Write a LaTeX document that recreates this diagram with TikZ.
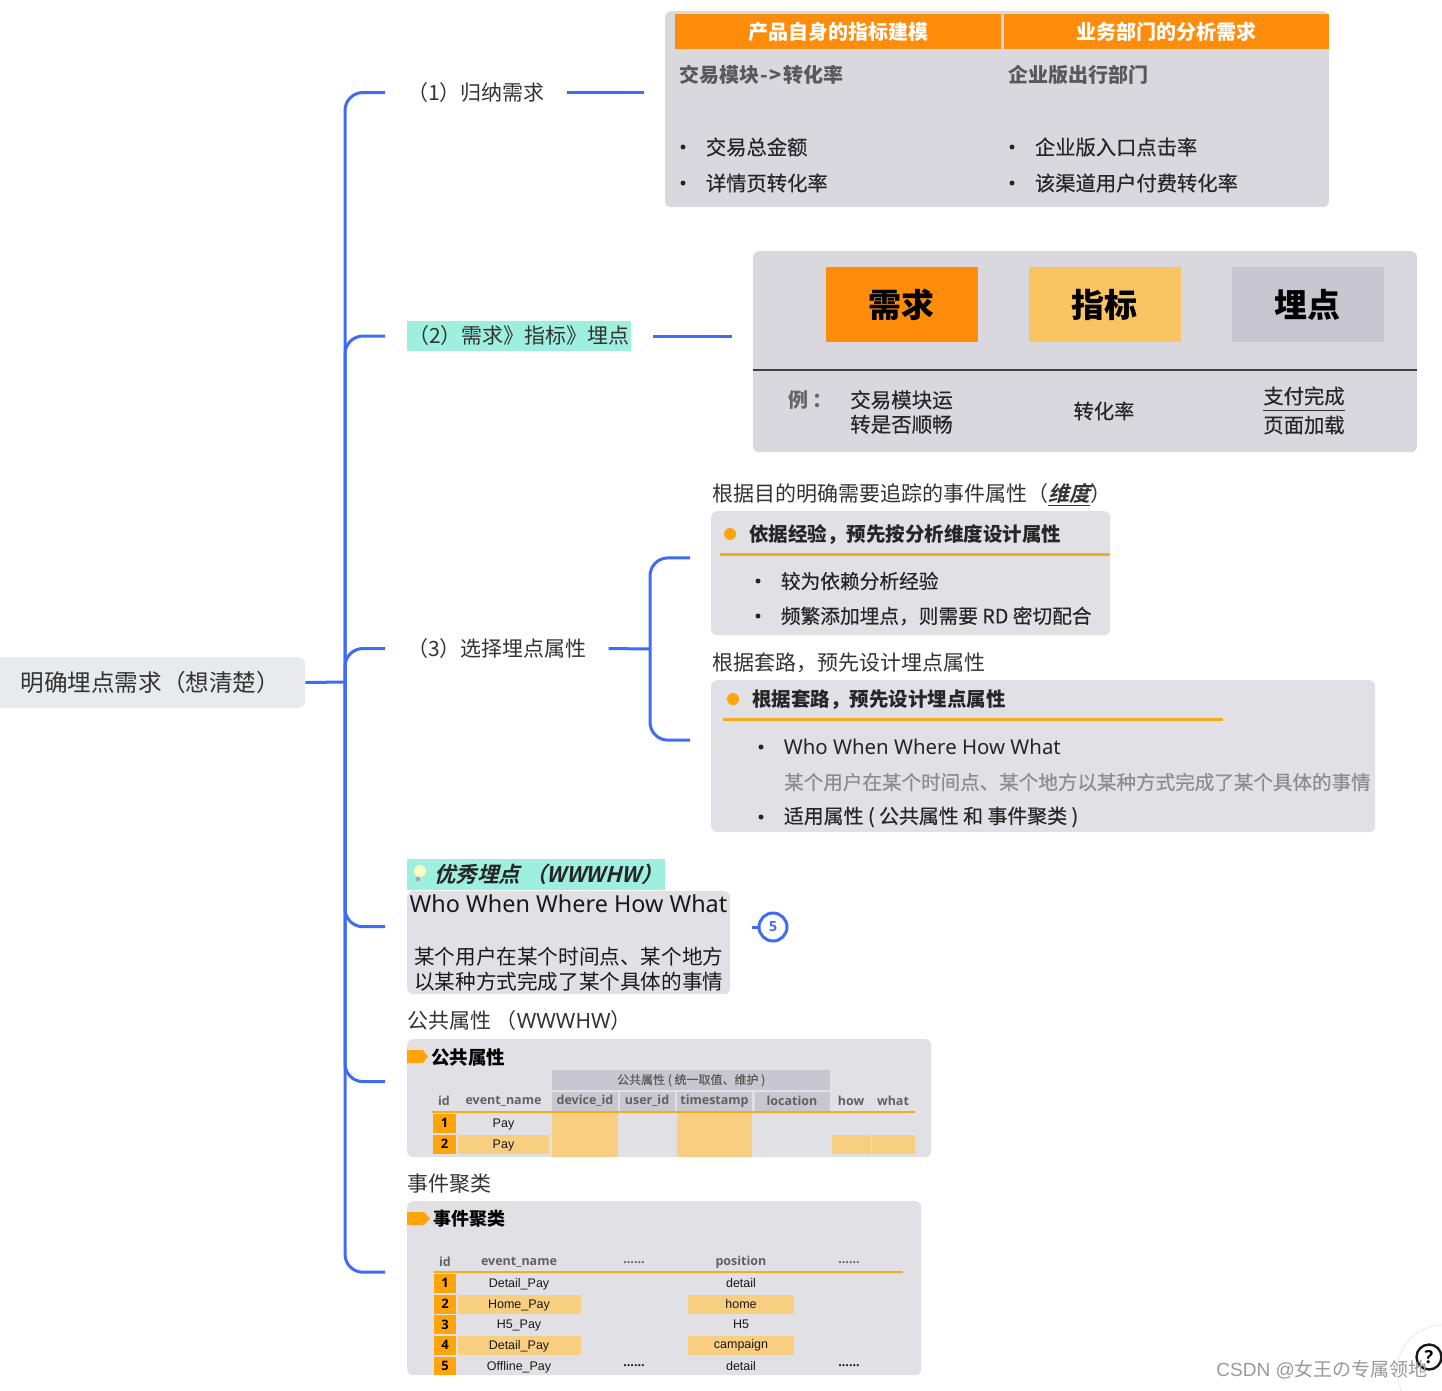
\documentclass[tikz,border=0pt]{standalone}
\usepackage{fontspec}
\setmainfont{Noto Sans CJK SC}
\setsansfont{Open Sans}
\newfontfamily\slantfont[FakeSlant=0.25]{Noto Sans CJK SC Bold}
\newfontfamily\medfont[FakeBold=0.35]{Noto Sans CJK SC}
\newfontfamily\whofont{Noto Sans}
\newfontfamily\armfont{Liberation Sans}
\usetikzlibrary{positioning, fit}
\definecolor{linkblue}{HTML}{3F6CF4}
\definecolor{rootgray}{HTML}{E9EAEC}
\definecolor{teal}{HTML}{9FEFDF}
\definecolor{panelgray}{HTML}{D9D8DF}
\definecolor{panellight}{HTML}{E0E0E5}
\definecolor{cellgray}{HTML}{C8C7CF}
\definecolor{deeporange}{HTML}{FF8C0A}
\definecolor{tagorange}{HTML}{FFA50A}
\definecolor{softorange}{HTML}{F8CE80}
\definecolor{boxorange}{HTML}{F9C562}
\definecolor{ruleorange}{HTML}{F5AC1E}
\newcommand{\fsz}[2]{\fontsize{#1}{#2}\selectfont}

\begin{document}
\begin{tikzpicture}[
		x=1pt,
		y=-1pt,
		node distance=20pt,
		root/.style={
			rectangle,
			rounded corners=7pt,
			fill=rootgray,
			anchor=west,
			align=left,
			inner xsep=18pt,
			minimum height=51pt,
			text=black!80,
			font=\fsz{23.6}{27}
		},
		branch/.style={
			anchor=west,
			inner xsep=0pt,
			inner ysep=0pt,
			outer xsep=22pt,
			text=black!80,
			font=\fsz{21}{25}
		},
		marked/.style={
			branch,
			fill=teal,
			minimum height=30pt,
			minimum width=224pt,
			align=left
		},
		panel/.style={
			rectangle,
			rounded corners=6pt,
			fill=panellight,
			anchor=north west,
			inner sep=0pt
		},
		headbox/.style={
			rectangle,
			fill=deeporange,
			text=white,
			anchor=north west,
			inner sep=0pt,
			minimum height=35pt,
			font=\fsz{20}{24}\bfseries
		},
		bigbox/.style={
			rectangle,
			anchor=north west,
			inner sep=0pt,
			minimum width=152pt,
			minimum height=75pt,
			text=black,
			font=\fsz{33}{36}\bfseries
		},
		caption/.style={
			anchor=west,
			inner sep=0pt,
			text=black!85,
			font=\medfont\fsz{20.3}{25}
		},
		plaintitle/.style={
			anchor=west,
			inner sep=0pt,
			text=black!80,
			font=\fsz{21}{25}
		},
		strong/.style={
			caption,
			font=\fsz{19.5}{24}\bfseries
		},
		dot/.style={
			circle,
			fill=black!85,
			inner sep=0pt,
			minimum size=5pt
		},
		bigdot/.style={
			circle,
			fill=tagorange,
			inner sep=0pt,
			minimum size=12pt
		},
		cell/.style={
			rectangle,
			anchor=north west,
			inner sep=0pt,
			minimum height=19pt,
			text=black!90,
			font=\armfont\fsz{12.5}{15}
		},
		headcell/.style={
			anchor=center,
			inner sep=0pt,
			text=black!62,
			font=\sffamily\fsz{12.5}{15}\bfseries
		},
		rowcell/.style={
			anchor=center,
			inner sep=0pt,
			text=black!90,
			font=\armfont\fsz{12.5}{15}
		},
		idcell/.style={
			rectangle,
			fill=tagorange,
			anchor=center,
			inner sep=0pt,
			minimum width=23pt,
			minimum height=19pt,
			text=black,
			font=\sffamily\fsz{13}{15}\bfseries
		},
		link/.style={
			draw=linkblue,
			line width=3pt
		},
		curved/.style={
			link,
			rounded corners=18pt
		},
		orangerule/.style={
			draw=ruleorange,
			line width=3pt
		},
		tag/.style={
			fill=tagorange
		}
		]
		
		\useasboundingbox (0,0) rectangle (1442,1390);
		
		\node[root, minimum width=310pt] (root) at (-5,682.5) {明确埋点需求（想清楚）};
		\coordinate (trunk) at (345,682);
		
		\node[branch] (need) at (385,92.5) {（1）归纳需求};
		\node[marked] (chain) at (385,336) {（2）需求》指标》埋点};
		\node[branch] (attr) at (385,648.5) {（3）选择埋点属性};
		
		\node[panel, fill=panelgray, minimum width=664pt, minimum height=196pt, outer xsep=21pt] (needpanel) at (644,11) {};
		\node[headbox, minimum width=326pt] (headleft) at (675,14) {产品自身的指标建模};
		\node[headbox, minimum width=325pt] (headright) at (1004,14) {业务部门的分析需求};
		\node[caption, text=black!65, font=\fsz{20}{24}\bfseries] (modleft) at (679,75) {交易模块\hspace{1.5pt}-\hspace{1pt}>\hspace{1.5pt}转化率};
		\node[caption, text=black!65, font=\fsz{20}{24}\bfseries] (modright) at (1008,75) {企业版出行部门};
		\node[dot] (dota) at (683,147) {};
		\node[caption, right=of dota] (itema) {交易总金额};
		\node[dot] (dotb) at (683,183) {};
		\node[caption, right=of dotb] (itemb) {详情页转化率};
		\node[dot] (dotc) at (1012,147) {};
		\node[caption, right=of dotc] (itemc) {企业版入口点击率};
		\node[dot] (dotd) at (1012,183) {};
		\node[caption, right=of dotd] (itemd) {该渠道用户付费转化率};
		
		\node[panel, fill=panelgray, minimum width=664pt, minimum height=201pt, outer xsep=21pt] (chainpanel) at (732,251) {};
		\node[bigbox, fill=deeporange] (needbox) at (825.5,267) {需求};
		\node[bigbox, fill=boxorange] (metricbox) at (1028.5,267) {指标};
		\node[bigbox, fill=cellgray] (pointbox) at (1231.5,267) {埋点};
		\coordinate (diva) at (753,370);
		\coordinate (divb) at (1417,370);
		\draw[draw=black!75, line width=1.8pt] (diva) -- (divb);
		\node[caption, text=black!60, font=\fsz{20}{24}\bfseries] (example) at (788,400) {例 ：};
		\node[caption, align=left, font=\medfont\fsz{20.5}{24.5}] (module) at (850,412) {交易模块运\\转是否顺畅};
		\node[caption, anchor=center] (rate) at (1104,411) {转化率};
		\node[caption, anchor=center] (payone) at (1304,396) {支付完成};
		\node[caption, anchor=center] (paytwo) at (1304,425) {页面加载};
		\coordinate (paylinea) at (1263,410.5);
		\coordinate (paylineb) at (1345,410.5);
		\draw[draw=black!80, line width=1.4pt] (paylinea) -- (paylineb);
		
		\node[plaintitle] (titlea) at (712,494.5) {根据目的明确需要追踪的事件属性（{\slantfont\underline{维度}}）};
		\node[panel, minimum width=399pt, minimum height=124pt] (panela) at (711,511) {};
		\node[bigdot] (bulleta) at (730,534) {};
		\node[strong, right=13pt of bulleta, yshift=-0.5pt] (heada) {依据经验，预先按分析维度设计属性};
		\coordinate (rulea) at (720,554);
		\coordinate (ruleb) at (1110,554);
		\draw[orangerule] (rulea) -- (ruleb);
		\node[dot] (dote) at (758,581) {};
		\node[caption, right=of dote, font=\medfont\fsz{19.7}{24}] (iteme) {较为依赖分析经验};
		\node[dot] (dotf) at (758,616) {};
		\node[caption, right=of dotf, font=\medfont\fsz{19.7}{24}] (itemf) {频繁添加埋点，则需要 RD 密切配合};
		\node[fit=(titlea)(panela), inner sep=0pt, outer xsep=21pt, yshift=1.5pt] (groupa) {};
		
		\node[plaintitle] (titleb) at (712,663) {根据套路，预先设计埋点属性};
		\node[panel, minimum width=664pt, minimum height=152pt] (panelb) at (711,680) {};
		\node[bigdot] (bulletb) at (733,699) {};
		\node[strong, right=13pt of bulletb, yshift=-0.5pt] (headb) {根据套路，预先设计埋点属性};
		\coordinate (rulec) at (723,719);
		\coordinate (ruled) at (1223,719);
		\draw[orangerule] (rulec) -- (ruled);
		\node[dot] (dotg) at (761,747) {};
		\node[caption, right=of dotg, font=\whofont\fsz{20.4}{25}] (itemg) {Who When Where How What};
		\node[caption, text=black!45, font=\medfont\fsz{19.55}{24}] (itemh) at (784,782) {某个用户在某个时间点、某个地方以某种方式完成了某个具体的事情};
		\node[dot] (doti) at (761,817) {};
		\node[caption, right=of doti, font=\medfont\fsz{19.9}{24}] (itemi) {适用属性 ( 公共属性 和 事件聚类 )};
		\node[fit=(titleb)(panelb), inner sep=0pt, outer xsep=21pt, yshift=2.5pt] (groupb) {};
		
		\node[marked, minimum width=258pt, minimum height=31pt, anchor=north west, outer xsep=0pt] (besttitle) at (407,859) {};
		\node[anchor=west, inner sep=0pt, text=black!85, font=\slantfont\fsz{21.5}{25}] (besttext) at (434,874) {优秀埋点 （WWWHW）};
		\node[circle, fill=yellow!25, inner sep=0pt, minimum size=12pt] (bulb) at (420,871) {};
		\node[rectangle, fill=black!35, inner sep=0pt, minimum width=4pt, minimum height=4pt, rotate=15] (bulbbase) at (418,879) {};
		\node[panel, minimum width=323pt, minimum height=103pt] (bestpanel) at (407,891) {};
		\node[anchor=center, inner sep=0pt, text=black!90, font=\whofont\fsz{23.4}{30}] (bestwho) at (568.5,904) {Who When Where How What};
		\node[anchor=west, inner sep=0pt, align=left, text=black!90, font=\fsz{20.6}{25}] (bestdesc) at (414,969.5) {某个用户在某个时间点、某个地方\\以某种方式完成了某个具体的事情};
		\node[fit=(besttitle)(bestpanel), inner sep=0pt, outer xsep=22pt] (best) {};
		\node[circle, draw=linkblue, line width=3pt, inner sep=0pt, minimum size=28pt, text=linkblue, font=\sffamily\fsz{14}{16}\bfseries] (count) at (773,927) {5};
		\coordinate (countend) at (752,927);
		
		\node[plaintitle] (commontitle) at (407,1021) {公共属性 （{\whofont WWWHW}）};
		\node[panel, minimum width=524pt, minimum height=118pt] (commonpanel) at (407,1039) {};
		\fill[tag] (407,1050) -- (423,1050) -- (428,1056.5) -- (423,1063) -- (407,1063) -- cycle;
		\node[caption, text=black, font=\fsz{18.5}{22}\bfseries] (commonhead) at (431,1057) {公共属性};
		\node[cell, fill=cellgray, minimum width=278pt, minimum height=20pt, text=black!65, font=\medfont\fsz{12}{15}] (commonband) at (552,1070) {公共属性 ( 统一取值、维护 )};
		\node[cell, fill=cellgray, minimum width=66pt] (devicebox) at (552,1092) {};
		\node[cell, fill=cellgray, minimum width=55pt] (userbox) at (620,1092) {};
		\node[cell, fill=cellgray, minimum width=75pt] (timebox) at (677,1092) {};
		\node[cell, fill=cellgray, minimum width=75pt] (placebox) at (755,1092) {};
		\node[cell, fill=softorange, minimum width=66pt, minimum height=44pt] (devicemark) at (552,1113) {};
		\node[cell, fill=softorange, minimum width=75pt, minimum height=44pt] (timemark) at (677,1113) {};
		\node[cell, fill=softorange, minimum width=91pt] (namemark) at (458,1135) {};
		\node[cell, fill=softorange, minimum width=39pt] (howmark) at (832,1135) {};
		\node[cell, fill=softorange, minimum width=43pt] (whatmark) at (872,1135) {};
		\node[headcell] (idhead) at (444,1101) {id};
		\node[headcell] (namehead) at (503.5,1101) {event\_name};
		\node[headcell] (devicehead) at (585,1101) {device\_id};
		\node[headcell] (userhead) at (647,1101) {user\_id};
		\node[headcell] (timehead) at (714.5,1101) {timestamp};
		\node[headcell] (placehead) at (792,1101) {location};
		\node[headcell] (howhead) at (851,1101) {how};
		\node[headcell] (whathead) at (893,1101) {what};
		\coordinate (rulee) at (432,1112);
		\coordinate (rulef) at (915,1112);
		\draw[orangerule, line width=2.4pt] (rulee) -- (rulef);
		\node[idcell] (commonone) at (444.5,1123) {1};
		\node[rowcell] (commonpayone) at (503.5,1124) {Pay};
		\node[idcell] (commontwo) at (444.5,1144) {2};
		\node[rowcell] (commonpaytwo) at (503.5,1145) {Pay};
		
		\node[plaintitle] (clustertitle) at (407,1184) {事件聚类};
		\node[panel, minimum width=514pt, minimum height=174pt] (clusterpanel) at (407,1201) {};
		\fill[tag] (407,1212) -- (424,1212) -- (430,1218.5) -- (424,1225) -- (407,1225) -- cycle;
		\node[caption, text=black, font=\fsz{18}{22}\bfseries] (clusterhead) at (433,1219) {事件聚类};
		\node[headcell] (cid) at (445,1262) {id};
		\node[headcell] (cname) at (519,1262) {event\_name};
		\node[headcell] (cgapa) at (634,1263) {......};
		\node[headcell] (cplace) at (741,1262) {position};
		\node[headcell] (cgapb) at (849,1263) {......};
		\coordinate (ruleg) at (434,1272);
		\coordinate (ruleh) at (903,1272);
		\draw[orangerule, line width=2.4pt] (ruleg) -- (ruleh);
		\node[cell, fill=softorange, minimum width=123pt] (markb) at (458,1294.5) {};
		\node[cell, fill=softorange, minimum width=106pt] (markc) at (688,1294.5) {};
		\node[cell, fill=softorange, minimum width=123pt] (markd) at (458,1335.5) {};
		\node[cell, fill=softorange, minimum width=106pt] (marke) at (688,1335.5) {};
		\node[idcell, minimum width=22pt] (rowa) at (445,1283) {1};
		\node[rowcell] (namea) at (519,1284) {Detail\_Pay};
		\node[rowcell] (placea) at (741,1283) {detail};
		\node[idcell, minimum width=22pt] (rowb) at (445,1304) {2};
		\node[rowcell] (nameb) at (519,1305) {Home\_Pay};
		\node[rowcell] (placeb) at (741,1304) {home};
		\node[idcell, minimum width=22pt] (rowc) at (445,1324.5) {3};
		\node[rowcell] (namec) at (519,1325.5) {H5\_Pay};
		\node[rowcell] (placec) at (741,1324.5) {H5};
		\node[idcell, minimum width=22pt] (rowd) at (445,1345) {4};
		\node[rowcell] (named) at (519,1346) {Detail\_Pay};
		\node[rowcell] (placed) at (741,1345.5) {campaign};
		\node[idcell, minimum width=22pt, minimum height=18pt] (rowe) at (445,1366) {5};
		\node[rowcell] (namee) at (519,1367) {Offline\_Pay};
		\node[rowcell] (placee) at (741,1366) {detail};
		\node[rowcell, font=\sffamily\fsz{12.5}{15}\bfseries] (gapa) at (634,1366) {......};
		\node[rowcell, font=\sffamily\fsz{12.5}{15}\bfseries] (gapb) at (849,1366) {......};
		
		\node[fit=(commontitle)(commonpanel), inner sep=0pt, outer xsep=22pt, yshift=2.5pt] (common) {};
		\node[fit=(clustertitle)(clusterpanel), inner sep=0pt, outer xsep=22pt, yshift=2.5pt] (cluster) {};
		
		\draw[link] (root.east) -- (trunk);
		\draw[curved] (trunk) |- (need.west);
		\draw[curved] (trunk) |- (chain.west);
		\draw[curved] (trunk) |- (attr.west);
		\draw[curved] (trunk) |- (best.west);
		\draw[curved] (trunk) |- (common.west);
		\draw[curved] (trunk) |- (cluster.west);
		
		\draw[link] (need.east) -- (need.east -| needpanel.west);
		\draw[link] (chain.east) -- (chain.east -| chainpanel.west);
		\coordinate (split) at (650,649);
		\draw[link] (attr.east) -- (split);
		\draw[curved] (split) |- (groupa.west);
		\draw[curved] (split) |- (groupb.west);
		\draw[link] (countend) -- (count);
		
		\node[circle, draw=black!15, fill=white, inner sep=0pt, minimum size=92pt] (helpring) at (1443,1371) {};
		\node[circle, draw=black!90, line width=2.4pt, inner sep=0pt, minimum size=25pt, font=\sffamily\fsz{18}{20}\bfseries] (help) at (1429,1357) {?};
		\node[anchor=east, inner sep=0pt, text=black!40, font=\armfont\fsz{19}{23}] (watermark) at (1428,1370) {CSDN @{\rmfamily 女王の专属领地}};
		
	\end{tikzpicture}
\end{document}
